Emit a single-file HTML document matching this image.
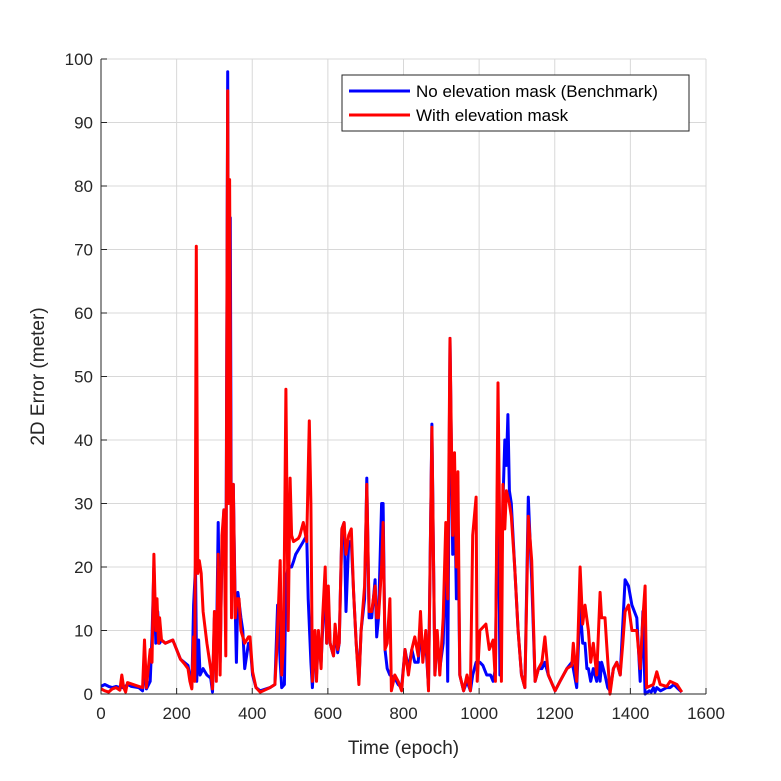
<!DOCTYPE html>
<html><head><meta charset="utf-8"><style>
body{margin:0;background:#fff;}
svg{display:block;font-family:"Liberation Sans",sans-serif;}
</style></head><body>
<svg id="chart" width="781" height="781"></svg>
<script>
const xTicks=[0,200,400,600,800,1000,1200,1400,1600];
const yTicks=[0,10,20,30,40,50,60,70,80,90,100];
const blueData=[[0,1.2],[10,1.5],[20,1.2],[30,1],[40,1.2],[50,1],[60,1],[70,1.5],[80,1.2],[100,1],[110,0.5],[115,5],[120,0.8],[130,2],[135,9],[140,20],[145,8],[150,13],[155,8],[160,8.5],[170,8],[190,8.5],[200,7],[210,5.5],[220,5],[230,4.5],[240,1],[245,14],[250,20],[253,2],[258,8.5],[262,3],[270,4],[280,3],[290,2.5],[295,0.3],[300,12],[305,5],[310,27],[315,5],[320,23],[325,29],[330,10],[335,98],[338,40],[342,75],[345,15],[350,33],[355,14],[358,5],[362,16],[370,12],[375,10],[380,4],[390,8],[394,8],[401,3],[410,1],[421,0.5],[447,1],[460,1.5],[467,14],[474,5],[478,1],[485,1.5],[489,18],[495,20],[504,20],[510,21],[515,22],[525,23],[535,24],[544,25],[548,15],[555,5],[559,1],[566,9],[570,3],[575,9],[582,5],[586,10],[593,18],[597,8],[601,15],[606,8],[615,6],[619,10],[626,6.5],[630,8],[637,26],[643,27],[648,13],[655,24],[662,24],[668,16],[675,8],[682,2],[688,10],[697,15],[703,34],[709,12],[716,12],[725,18],[729,9],[734,12],[742,30],[746,30],[751,7],[757,4],[764,3],[777,2.5],[786,1.5],[795,1],[804,7],[813,4],[822,7],[830,5],[839,5],[845,10],[851,6],[859,8],[866,1],[875,42.5],[883,3],[889,9],[896,4],[905,8],[912,25],[917,2],[923,56],[930,22],[935,33],[940,15],[944,28],[949,3],[959,0.5],[968,2],[977,0.5],[983,3],[992,5],[1002,5],[1010,4.5],[1020,3],[1030,3],[1037,2],[1043,4],[1050,40],[1055,3],[1063,30],[1068,40],[1072,36],[1076,44],[1080,32],[1085,30],[1094,20],[1103,10],[1112,3],[1121,1],[1130,31],[1139,18],[1148,2],[1157,4],[1166,4],[1174,5],[1183,3],[1201,0.5],[1214,2],[1232,4],[1245,5],[1249,4],[1258,1],[1267,14],[1274,8],[1280,8],[1285,4],[1289,4],[1295,2],[1302,4],[1311,2],[1316,5],[1320,2],[1324,5],[1333,3],[1340,1],[1346,0.5],[1355,4],[1364,5],[1373,3],[1380,11],[1386,18],[1395,17],[1404,14],[1417,12],[1426,2],[1433,13],[1439,0],[1450,0.5],[1455,0.3],[1461,1],[1465,0.3],[1470,1],[1480,0.5],[1496,1],[1505,1],[1515,1.5],[1523,1],[1536,0.3]];
const redData=[[0,0.8],[10,0.5],[20,0.3],[30,0.8],[40,1],[50,0.6],[55,3],[60,1],[65,0.3],[70,1.8],[100,1.2],[110,1],[115,8.5],[120,1],[130,7],[135,5],[140,22],[145,10],[148,15],[152,8],[155,12],[160,8.5],[170,8],[190,8.5],[200,7],[210,5.5],[220,4.8],[230,4],[235,2],[240,0.8],[245,9],[248,2],[252,70.5],[256,19],[260,21],[265,19],[270,13],[280,8],[290,4],[295,0.8],[300,13],[305,2],[310,22],[315,3],[320,25],[325,29],[330,6],[335,95],[338,30],[340,81],[345,12],[350,33],[355,12],[360,15],[365,15],[370,10],[380,8],[390,9],[394,9],[401,3.5],[410,1],[421,0.3],[447,1],[460,1.5],[465,7],[474,21],[478,3],[483,8],[489,48],[495,10],[500,34],[504,25],[509,24],[522,24.5],[526,25],[535,27],[544,24],[551,43],[555,30],[559,2],[566,10],[570,2],[575,10],[582,4],[586,12],[593,20],[597,8],[601,17],[606,8],[615,6],[619,11],[626,7],[630,8],[637,26],[643,27],[648,22],[655,25],[662,26],[668,16],[675,8],[682,1.5],[688,10],[697,17],[703,33],[709,13],[716,13],[725,17],[729,12],[734,12],[742,20],[746,27],[751,7],[757,8],[764,15],[768,0.5],[777,3],[786,2],[795,0.5],[804,7],[813,3],[822,7],[830,9],[839,6],[845,13],[851,5],[859,10],[866,0.5],[875,42],[883,3],[889,10],[896,3],[905,12],[912,27],[917,15],[923,56],[930,25],[935,38],[940,20],[944,35],[949,3],[959,0.5],[968,3],[977,0.5],[983,25],[992,31],[995,2],[1002,10],[1018,11],[1027,7],[1037,8.5],[1043,2],[1050,49],[1059,2],[1063,33],[1068,26],[1072,32],[1080,30],[1085,28],[1094,20],[1103,10],[1112,3],[1121,1],[1130,28],[1139,21],[1148,2],[1157,4],[1166,5],[1174,9],[1183,3],[1201,0.5],[1214,2],[1232,4],[1245,4.5],[1249,8],[1258,2],[1267,20],[1274,11],[1280,14],[1289,10],[1295,5],[1302,8],[1311,3],[1320,16],[1324,12],[1333,12],[1337,8],[1346,0],[1355,4],[1364,5],[1373,3],[1380,8],[1386,13],[1395,14],[1404,10],[1417,10],[1426,4],[1433,12],[1439,17],[1443,1],[1461,1.5],[1470,3.5],[1479,1.5],[1496,1.2],[1505,2],[1523,1.5],[1536,0.3]];
const L=101,R=706,T=59,B=694;
const xs=v=>L+(v-0)/(1600)*(R-L);
const ys=v=>B-(v/100)*(B-T);
const NS="http://www.w3.org/2000/svg";
const svg=document.getElementById('chart');
function mk(tag,attrs,parent){const e=document.createElementNS(NS,tag);for(const k in attrs)e.setAttribute(k,attrs[k]);(parent||svg).appendChild(e);return e;}
const bg=mk('rect',{x:L,y:T,width:R-L,height:B-T,fill:'#fff'});


xTicks.forEach(t=>{
  const g=mk('line',{x1:xs(t),x2:xs(t),y1:T,y2:B,stroke:'#d8d8d8','stroke-width':1});
  
  
  const tk=mk('line',{x1:xs(t),x2:xs(t),y1:B,y2:B-6,stroke:'#262626','stroke-width':1});
  
  
  const tx=mk('text',{x:xs(t),y:B+25,'text-anchor':'middle','font-size':17,fill:'#262626'});
  tx.textContent=t;
  
  
});
yTicks.forEach(t=>{
  const g=mk('line',{x1:L,x2:R,y1:ys(t),y2:ys(t),stroke:'#d8d8d8','stroke-width':1});
  
  
  const tk=mk('line',{x1:L,x2:L+6,y1:ys(t),y2:ys(t),stroke:'#262626','stroke-width':1});
  
  
  const tx=mk('text',{x:L-8,y:ys(t)+6,'text-anchor':'end','font-size':17,fill:'#262626'});
  tx.textContent=t;
  
  
});
function line(data,color,name){
  const p=mk('polyline',{points:data.map(d=>xs(d[0]).toFixed(1)+','+ys(d[1]).toFixed(1)).join(' '),fill:'none',stroke:color,'stroke-width':3,'stroke-linejoin':'round'});
  
  
}
line(blueData,'#0000ff','series-no-mask');
line(redData,'#ff0000','series-with-mask');
const ax=mk('path',{d:`M${L},${T}V${B}H${R}`,fill:'none',stroke:'#262626','stroke-width':1});


const xt=mk('text',{x:(L+R)/2,y:754,'text-anchor':'middle','font-size':19,fill:'#262626'});
xt.textContent='Time (epoch)';


const yt=mk('text',{x:0,y:0,'text-anchor':'middle','font-size':19,fill:'#262626',transform:`translate(44,${(T+B)/2}) rotate(-90)`});
yt.textContent='2D Error (meter)';


const lg=mk('g',{});


mk('rect',{x:342,y:75,width:347,height:56,fill:'#fff',stroke:'#262626','stroke-width':1},lg);
mk('line',{x1:349,x2:410,y1:91,y2:91,stroke:'#0000ff','stroke-width':3},lg);
mk('line',{x1:349,x2:410,y1:115,y2:115,stroke:'#ff0000','stroke-width':3},lg);
const l1=mk('text',{x:416,y:97,'font-size':17,fill:'#000'},lg);
l1.textContent='No elevation mask (Benchmark)';


const l2=mk('text',{x:416,y:121,'font-size':17,fill:'#000'},lg);
l2.textContent='With elevation mask';


</script>
</body></html>
